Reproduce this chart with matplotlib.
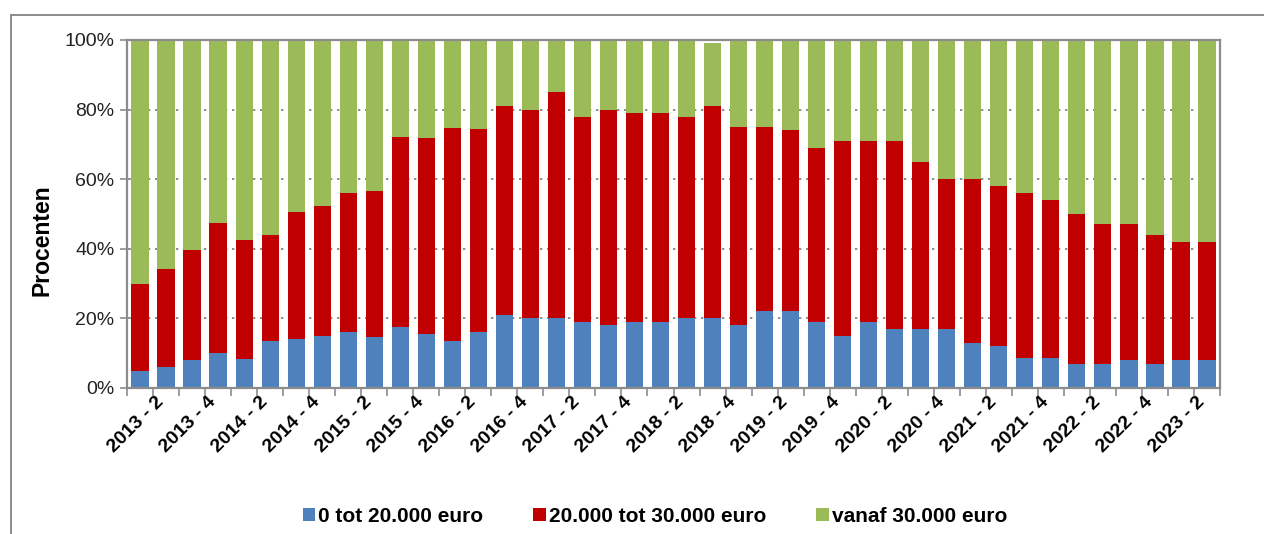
import matplotlib
matplotlib.use("Agg")
import matplotlib.pyplot as plt
import matplotlib.transforms as mtransforms
from matplotlib.lines import Line2D
from matplotlib.ticker import FixedLocator, FuncFormatter
import numpy as np

plt.rcParams["font.family"] = ["Liberation Sans", "DejaVu Sans"]

# quarters 2013-2 .. 2023-3
quarters = ["2013 - 2", "2013 - 3", "2013 - 4",
            "2014 - 1", "2014 - 2", "2014 - 3", "2014 - 4",
            "2015 - 1", "2015 - 2", "2015 - 3", "2015 - 4",
            "2016 - 1", "2016 - 2", "2016 - 3", "2016 - 4",
            "2017 - 1", "2017 - 2", "2017 - 3", "2017 - 4",
            "2018 - 1", "2018 - 2", "2018 - 3", "2018 - 4",
            "2019 - 1", "2019 - 2", "2019 - 3", "2019 - 4",
            "2020 - 1", "2020 - 2", "2020 - 3", "2020 - 4",
            "2021 - 1", "2021 - 2", "2021 - 3", "2021 - 4",
            "2022 - 1", "2022 - 2", "2022 - 3", "2022 - 4",
            "2023 - 1", "2023 - 2", "2023 - 3"]

# share in %
tot_20k = [5, 6, 8, 10, 8.3, 13.5, 14.2, 15, 16, 14.6, 17.6, 15.4, 13.5, 16,
           21, 20, 20, 19, 18, 19, 19, 20, 20, 18, 22, 22, 19, 15, 19, 17,
           17, 17, 13, 12, 8.6, 8.6, 7, 7, 8, 7, 8, 8]
tot_30k = [25, 28.2, 31.7, 37.4, 34.3, 30.5, 36.5, 37.2, 39.9, 42, 54.5, 56.3,
           61.1, 58.3, 60, 60, 65, 59, 62, 60, 60, 58, 61, 57, 53, 52, 50, 56,
           52, 54, 48, 43, 47, 46, 47.4, 45.4, 43, 40, 39, 37, 34, 34]
vanaf_30k = [70, 65.8, 60.3, 52.6, 57.4, 56, 49.3, 47.8, 44.1, 43.4, 27.9, 28.3,
             25.4, 25.7, 19, 20, 15, 22, 20, 21, 21, 22, 18, 25, 25, 26, 31, 29,
             29, 29, 35, 40, 40, 42, 44, 46, 50, 53, 53, 56, 58, 58]

series_names = ["0 tot 20.000 euro", "20.000 tot 30.000 euro", "vanaf 30.000 euro"]
colors = ["#4F81BD", "#C00000", "#9BBB59"]

fig = plt.figure(figsize=(12.64, 5.34), dpi=100)
ax = fig.add_axes([127/1264, 1 - 388/534, (1220-127)/1264, (388-40)/534])

x = np.arange(len(quarters))
bottom = np.zeros(len(quarters))
for vals, name, c in zip([tot_20k, tot_30k, vanaf_30k], series_names, colors):
    ax.bar(x, vals, width=0.66, bottom=bottom, color=c, label=name, zorder=2)
    bottom = bottom + np.array(vals)

ax.set_xlim(-0.5, len(quarters) - 0.5)
ax.set_ylim(0, 100)

# y axis
ax.set_yticks([0, 20, 40, 60, 80, 100])
ax.yaxis.set_major_formatter(FuncFormatter(lambda v, p: f"{v:.0f}%"))
ax.tick_params(axis="y", direction="inout", length=10, width=1.2, color="#8c8c8c",
               labelsize=14, labelcolor="#222222", pad=4)
ax.yaxis.grid(True, linestyle=(0, (1.2, 2.4)), color="#8c8c8c", linewidth=1.4, zorder=1)

# x axis: ticks between categories, labels every other quarter
ax.set_xticks(x[::2])
ax.set_xticklabels(quarters[::2], rotation=45, ha="right", va="top",
                   rotation_mode="anchor", fontsize=14, fontweight="bold")
ax.tick_params(axis="x", which="major", length=0, pad=4)
ax.xaxis.set_minor_locator(FixedLocator(np.arange(-0.5, len(quarters), 1)))
ax.tick_params(axis="x", which="minor", direction="out", length=6, width=1.2, color="#8c8c8c")
offset = mtransforms.ScaledTranslation(15/100, 0, fig.dpi_scale_trans)
for lab in ax.get_xticklabels():
    lab.set_transform(lab.get_transform() + offset)

for s in ax.spines.values():
    s.set_color("#8c8c8c")
    s.set_linewidth(1.6)

fig.text(42/1264, 1 - 240/534, "Procenten", rotation=90, ha="center", va="center",
         fontsize=16.5, fontweight="bold")

fig.legend(loc="center", bbox_to_anchor=(655/1264, 1 - 516/534), ncol=3, frameon=False,
           prop={"weight": "bold", "size": 15}, handlelength=0.6, handleheight=0.6,
           handletextpad=0.15, columnspacing=2.4)

# outer chart frame (cut off at right and bottom)
fig.add_artist(Line2D([11/1264, 1], [1 - 15/534, 1 - 15/534], color="#8c8c8c", lw=1.4))
fig.add_artist(Line2D([11/1264, 11/1264], [0, 1 - 15/534], color="#8c8c8c", lw=1.4))

fig.savefig("out.png", dpi=100)
